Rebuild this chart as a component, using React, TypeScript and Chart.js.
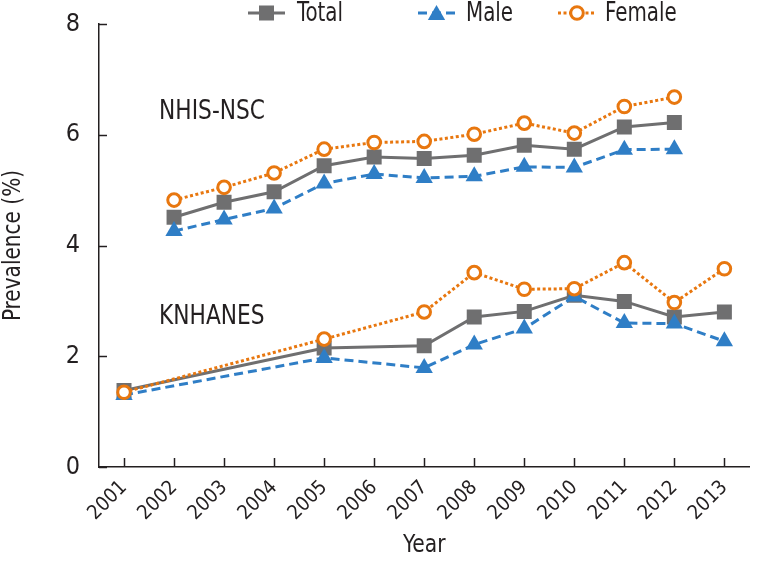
import React, { useEffect, useRef } from 'react';
import { Chart, registerables } from 'chart.js';
Chart.register(...registerables);

const years = ['2001', '2002', '2003', '2004', '2005', '2006', '2007', '2008', '2009', '2010', '2011', '2012', '2013'];
const nhisTotal = [null, 4.51, 4.78, 4.97, 5.44, 5.6, 5.57, 5.63, 5.81, 5.74, 6.14, 6.22, null];
const nhisMale = [null, 4.26, 4.47, 4.67, 5.12, 5.29, 5.22, 5.25, 5.42, 5.41, 5.73, 5.74, null];
const nhisFemale = [null, 4.82, 5.05, 5.31, 5.74, 5.86, 5.88, 6.01, 6.21, 6.03, 6.51, 6.68, null];
const knTotal = [1.38, null, null, null, 2.15, null, 2.19, 2.71, 2.81, 3.1, 2.99, 2.71, 2.8];
const knMale = [1.3, null, null, null, 1.97, null, 1.79, 2.21, 2.5, 3.08, 2.6, 2.59, 2.27];
const knFemale = [1.35, null, null, null, 2.31, null, 2.8, 3.51, 3.21, 3.22, 3.69, 2.97, 3.58];
const yTicks = [0, 2, 4, 6, 8];
const groupLabels = [
  { text: 'NHIS-NSC', xIndex: 1, y: 6.4 },
  { text: 'KNHANES', xIndex: 1, y: 2.7 },
];
const legendItems = ['Total', 'Male', 'Female'];

const FONT = "'DejaVu Sans Condensed', 'DejaVu Sans', sans-serif";
const TEXT = '#231f20';
const GRAY = '#6f6f70';
const BLUE = '#2f7ec6';
const ORANGE = '#e8770f';

const styles: Record<string, any> = {
  Total: { color: GRAY, dash: [], pointStyle: 'rect', radius: 10.6, bg: GRAY, bw: 0 },
  Male: { color: BLUE, dash: [9, 5], pointStyle: 'triangle', radius: 10, bg: BLUE, bw: 0 },
  Female: { color: ORANGE, dash: [3, 2.5], pointStyle: 'circle', radius: 6.3, bg: '#ffffff', bw: 3 },
};

function ds(label: string, data: (number | null)[], order: number) {
  const s = styles[label];
  return {
    label,
    data,
    order,
    spanGaps: true,
    borderColor: s.color,
    borderWidth: 3,
    borderDash: s.dash,
    pointStyle: s.pointStyle,
    pointRadius: s.radius,
    pointBackgroundColor: s.bg,
    pointBorderColor: s.color,
    pointBorderWidth: s.bw,
    tension: 0,
    fill: false,
  };
}

function drawText(ctx: any, text: string, x: number, y: number, size: number, sx: number, align: string, rot = 0) {
  ctx.save();
  ctx.translate(x, y);
  if (rot) ctx.rotate(rot);
  ctx.scale(sx, 1);
  ctx.font = `${size}px ${FONT}`;
  ctx.fillStyle = TEXT;
  ctx.textAlign = align;
  ctx.textBaseline = 'middle';
  ctx.fillText(text, 0, 0);
  ctx.restore();
}

const overlay = {
  id: 'overlay',
  afterDraw(chart: any) {
    const ctx = chart.ctx;
    const xs = chart.scales.x;
    const ys = chart.scales.y;
    const { left, bottom, right, top } = chart.chartArea;
    ctx.save();
    ctx.strokeStyle = TEXT;
    ctx.lineWidth = 1.5;
    ctx.setLineDash([]);
    yTicks.forEach((v) => {
      const y = Math.round(ys.getPixelForValue(v)) + 0.5;
      ctx.beginPath();
      ctx.moveTo(left, y);
      ctx.lineTo(left + 8, y);
      ctx.stroke();
    });
    years.forEach((_, i) => {
      const x = Math.round(xs.getPixelForValue(i)) + 0.5;
      ctx.beginPath();
      ctx.moveTo(x, bottom);
      ctx.lineTo(x, bottom - 9);
      ctx.stroke();
    });
    groupLabels.forEach((g) => {
      drawText(ctx, g.text, xs.getPixelForValue(g.xIndex) - 15, ys.getPixelForValue(g.y), 26, 0.93, 'left');
    });
    drawText(ctx, 'Year', (left + right) / 2, 545, 25, 0.9, 'center');
    drawText(ctx, 'Prevalence (%)', 14, (top + bottom) / 2, 24, 0.93, 'center', -Math.PI / 2);
    const pos = [
      { x0: 248, x1: 285, tx: 297 },
      { x0: 418, x1: 455, tx: 466 },
      { x0: 558, x1: 596, tx: 605 },
    ];
    const ly = 13;
    legendItems.forEach((name, i) => {
      const s = styles[name];
      const p = pos[i];
      ctx.strokeStyle = s.color;
      ctx.lineWidth = 3;
      ctx.setLineDash(s.dash);
      ctx.beginPath();
      ctx.moveTo(p.x0, ly);
      ctx.lineTo(p.x1, ly);
      ctx.stroke();
      ctx.setLineDash([]);
      const cx = (p.x0 + p.x1) / 2;
      if (name === 'Total') {
        ctx.fillStyle = s.color;
        ctx.fillRect(cx - 7.5, ly - 7.5, 15, 15);
      } else if (name === 'Male') {
        ctx.fillStyle = s.color;
        const r = 10;
        ctx.beginPath();
        ctx.moveTo(cx, ly - r + 2);
        ctx.lineTo(cx + r * 0.866, ly + r / 2 + 2);
        ctx.lineTo(cx - r * 0.866, ly + r / 2 + 2);
        ctx.closePath();
        ctx.fill();
      } else {
        ctx.fillStyle = '#fff';
        ctx.beginPath();
        ctx.arc(cx, ly, 6.3, 0, Math.PI * 2);
        ctx.fill();
        ctx.lineWidth = 3;
        ctx.stroke();
      }
      drawText(ctx, name, p.tx, ly + 1, 26, 0.85, 'left');
    });
    ctx.restore();
  },
};

export default function App() {
  const ref = useRef<HTMLCanvasElement>(null);
  useEffect(() => {
    document.body.style.margin = '0';
    const chart = new Chart(ref.current as HTMLCanvasElement, {
      type: 'line',
      data: {
        labels: years,
        datasets: [
          ds('Total', nhisTotal, 2),
          ds('Male', nhisMale, 1),
          ds('Female', nhisFemale, 0),
          ds('Total', knTotal, 2),
          ds('Male', knMale, 1),
          ds('Female', knFemale, 0),
        ] as any,
      },
      options: {
        responsive: false,
        animation: false,
        layout: { padding: { top: 24, right: 1, left: 0, bottom: 0 } },
        plugins: { legend: { display: false }, tooltip: { enabled: false } },
        scales: {
          x: {
            offset: true,
            grid: { display: false, drawTicks: false },
            border: { display: true, color: TEXT, width: 1.5 },
            ticks: {
              autoSkip: false,
              maxRotation: 45,
              minRotation: 45,
              padding: 9,
              color: TEXT,
              font: { family: FONT, size: 20 },
            },
            afterFit: (s: any) => {
              s.height = 105;
              s.paddingLeft = 0;
              s.paddingRight = 0;
            },
          },
          y: {
            min: 0,
            max: 8,
            grid: { display: false, drawTicks: false },
            border: { display: true, color: TEXT, width: 1.5 },
            ticks: {
              stepSize: 2,
              padding: 19,
              color: TEXT,
              font: { family: FONT, size: 25 },
            },
            afterFit: (s: any) => {
              s.width = 99;
              s.paddingTop = 0;
              s.paddingBottom = 0;
            },
          },
        },
      },
      plugins: [overlay],
    });
    return () => chart.destroy();
  }, []);
  return <canvas ref={ref} width={760} height={572} />;
}
